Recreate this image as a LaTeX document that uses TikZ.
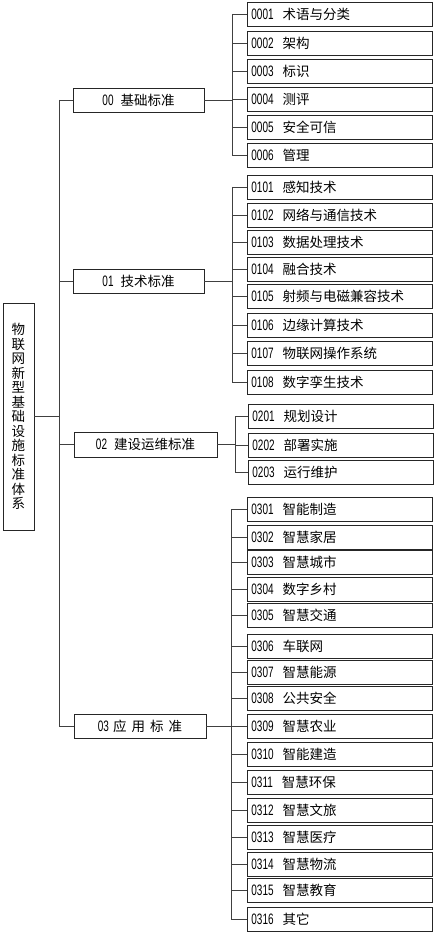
\documentclass[tikz,border=0pt]{standalone}
\usepackage{fontspec}
\setmainfont{Noto Sans CJK SC}
\newfontfamily\numfont{Liberation Sans}[FakeStretch=0.66,Scale=1.12]
\newcommand{\nm}[1]{{\numfont #1}}
\begin{document}
\begin{tikzpicture}[x=1pt,y=-1pt,
  box/.style={draw=black!85,line width=0.8pt,inner sep=0pt,font=\fontsize{13.5}{14.5}\selectfont},
  leaf/.style={box,anchor=west,minimum width=185pt,minimum height=24pt,text width=177pt,align=left,inner xsep=4pt},
  grp/.style={box,minimum height=24pt,align=center},
  link/.style={draw=black!75,line width=0.9pt}]
\useasboundingbox (0,0) rectangle (435,933);
% root
\node[box,minimum width=31pt,minimum height=227pt,align=center,font=\fontsize{13.5}{14.5}\selectfont] (root) at (18.5,416.5)
 {物\\联\\网\\新\\型\\基\\础\\设\\施\\标\\准\\体\\系};
\coordinate (T) at (59,0);
% groups
\node[grp,minimum width=131pt] (g0) at (138.5,100) {\nm{00}\hspace{7pt}基础标准};
\node[grp,minimum width=131pt] (g1) at (138.5,281) {\nm{01}\hspace{7pt}技术标准};
\node[grp,minimum width=143pt,minimum height=25pt] (g2) at (145.5,444.5) {\nm{02}\hspace{7pt}建设运维标准};
\node[grp,minimum width=132pt] (g3) at (140,726) {\nm{03}\hspace{4pt}应\hspace{5pt}用\hspace{5pt}标\hspace{5pt}准};
\coordinate (B0) at (232,0);
\coordinate (B1) at (232,0);
\coordinate (B2) at (235,0);
\coordinate (B3) at (231,0);
% leaves
\foreach \y/\c/\t in {14/0001/术语与分类,43/0002/架构,71/0003/标识,99/0004/测评,127/0005/安全可信,155/0006/管理,
  187/0101/感知技术,215/0102/网络与通信技术,242/0103/数据处理技术,269/0104/融合技术,296/0105/射频与电磁兼容技术,325/0106/边缘计算技术,353.5/0107/物联网操作系统,382/0108/数字孪生技术,
  509.5/0301/智能制造,537/0302/智慧家居,562/0303/智慧城市,589/0304/数字乡村,615.5/0305/智慧交通,646/0306/车联网,672/0307/智慧能源,698/0308/公共安全,726/0309/智慧农业,754.5/0310/智能建造,782/0311/智慧环保,810/0312/智慧文旅,837/0313/智慧医疗,864/0314/智慧物流,890/0315/智慧教育,919/0316/其它}
  {\node[leaf] (n\c) at (247,\y) {\nm{\c}\hspace{9pt}\t};}
\foreach \y/\c/\t in {416/0201/规划设计,445/0202/部署实施,472.5/0203/运行维护}
  {\node[leaf] (n\c) at (248,\y) {\nm{\c}\hspace{9pt}\t};}
% trunk
\draw[link] (root.east) -- (root.east -| T);
\draw[link] (g0.west -| T) -- (g3.west -| T);
\foreach \g in {g0,g1,g2,g3} {\draw[link] (\g.west) -- (\g.west -| T);}
% brackets
\draw[link] (g0.east) -- (g0.east -| B0);
\draw[link] (n0001.west -| B0) -- (n0006.west -| B0);
\foreach \c in {0001,0002,0003,0004,0005,0006} {\draw[link] (n\c.west) -- (n\c.west -| B0);}
\draw[link] (g1.east) -- (g1.east -| B1);
\draw[link] (n0101.west -| B1) -- (n0108.west -| B1);
\foreach \c in {0101,0102,0103,0104,0105,0106,0107,0108} {\draw[link] (n\c.west) -- (n\c.west -| B1);}
\draw[link] (g2.east) -- (g2.east -| B2);
\draw[link] (n0201.west -| B2) -- (n0203.west -| B2);
\foreach \c in {0201,0202,0203} {\draw[link] (n\c.west) -- (n\c.west -| B2);}
\draw[link] (g3.east) -- (g3.east -| B3);
\draw[link] (n0301.west -| B3) -- (n0316.west -| B3);
\foreach \c in {0301,0302,0303,0304,0305,0306,0307,0308,0309,0310,0311,0312,0313,0314,0315,0316} {\draw[link] (n\c.west) -- (n\c.west -| B3);}
\end{tikzpicture}
\end{document}
